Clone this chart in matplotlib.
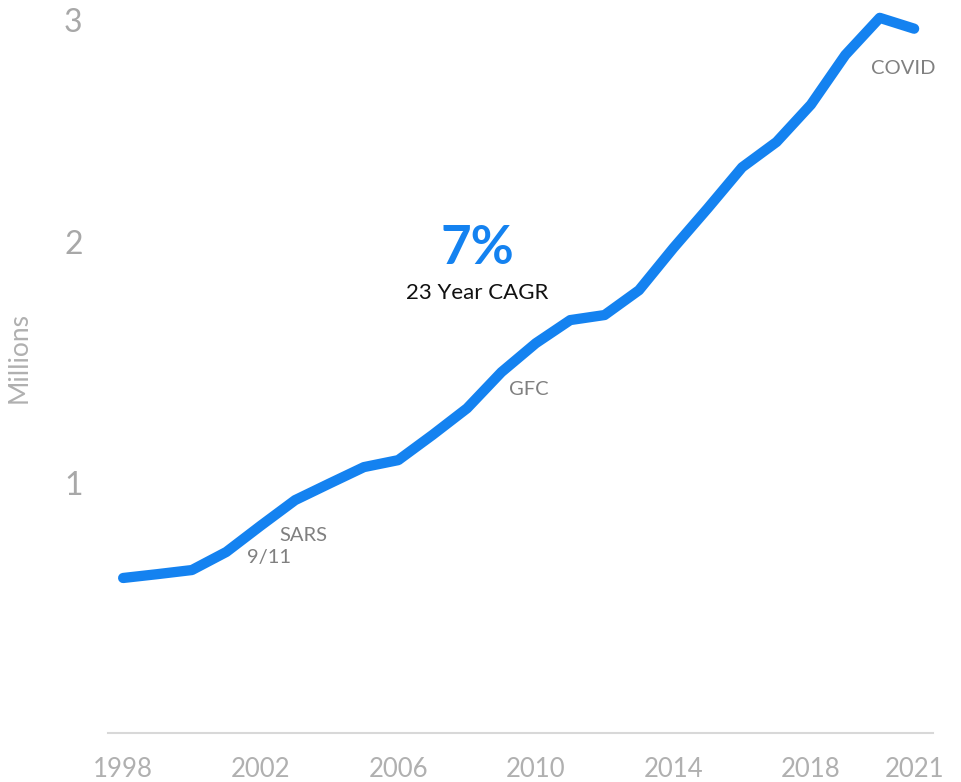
import matplotlib.pyplot as plt
from matplotlib.transforms import ScaledTranslation

# Passenger volumes, millions
years = list(range(1998, 2022))
passengers = [0.606, 0.622, 0.639, 0.714, 0.823, 0.929, 0.998, 1.066, 1.095,
              1.200, 1.310, 1.460, 1.580, 1.676, 1.697, 1.800, 1.975, 2.140,
              2.310, 2.415, 2.570, 2.776, 2.930, 2.885]

x_ticks = [1998, 2002, 2006, 2010, 2014, 2018, 2021]
y_ticks = [1, 2, 3]

# event markers: (label, year, value)
events = [("9/11", 2002.24, 0.689),
          ("SARS", 2003.23, 0.784),
          ("GFC", 2009.8, 1.39),
          ("COVID", 2020.67, 2.72)]

cagr_text = "7%"
cagr_caption = "23 Year CAGR"

plt.rcParams['font.family'] = ['Lato', 'DejaVu Sans']

fig = plt.figure(figsize=(9.61, 7.82), dpi=100)
ax = fig.add_axes([0.1124, 0.0627, 0.8585, 0.9373])

ax.plot(years, passengers, color='#1482f0', linewidth=7.4,
        solid_capstyle='round', solid_joinstyle='round')

ax.set_xlim(1997.56, 2021.55)
ax.set_ylim(-0.037, 3.004)

ax.set_xticks(x_ticks)
ax.set_xticklabels([str(y) for y in x_ticks])
ax.set_yticks(y_ticks)
ax.set_yticklabels([str(v) for v in y_ticks])
ax.tick_params(axis='x', length=0, pad=17, labelsize=18.5, labelcolor='#b0b0b0')
ax.tick_params(axis='y', length=0, pad=25, labelsize=23, labelcolor='#a8a8a8')
for lbl in ax.get_yticklabels():
    lbl.set_ha('center')
# top label sits just inside the figure edge
top_lbl = ax.get_yticklabels()[-1]
top_lbl.set_transform(top_lbl.get_transform()
                      + ScaledTranslation(0, -0.19, fig.dpi_scale_trans))

for side in ['top', 'right', 'left']:
    ax.spines[side].set_visible(False)
ax.spines['bottom'].set_color('#d8d8d8')
ax.spines['bottom'].set_linewidth(1.5)

ax.set_ylabel('Millions', fontsize=19, color='#b0b0b0')
ax.yaxis.set_label_coords(-0.092, 0.512)

for label, x, y in events:
    ax.text(x, y, label, ha='center', va='center', fontsize=14.5, color='#808080')

ax.text(2008.29, 1.975, cagr_text, ha='center', va='center', fontsize=38,
        fontweight='bold', color='#1482f0')
ax.text(2008.29, 1.788, cagr_caption, ha='center', va='center', fontsize=16,
        color='#111111')

fig.savefig('out.png', dpi=100)
